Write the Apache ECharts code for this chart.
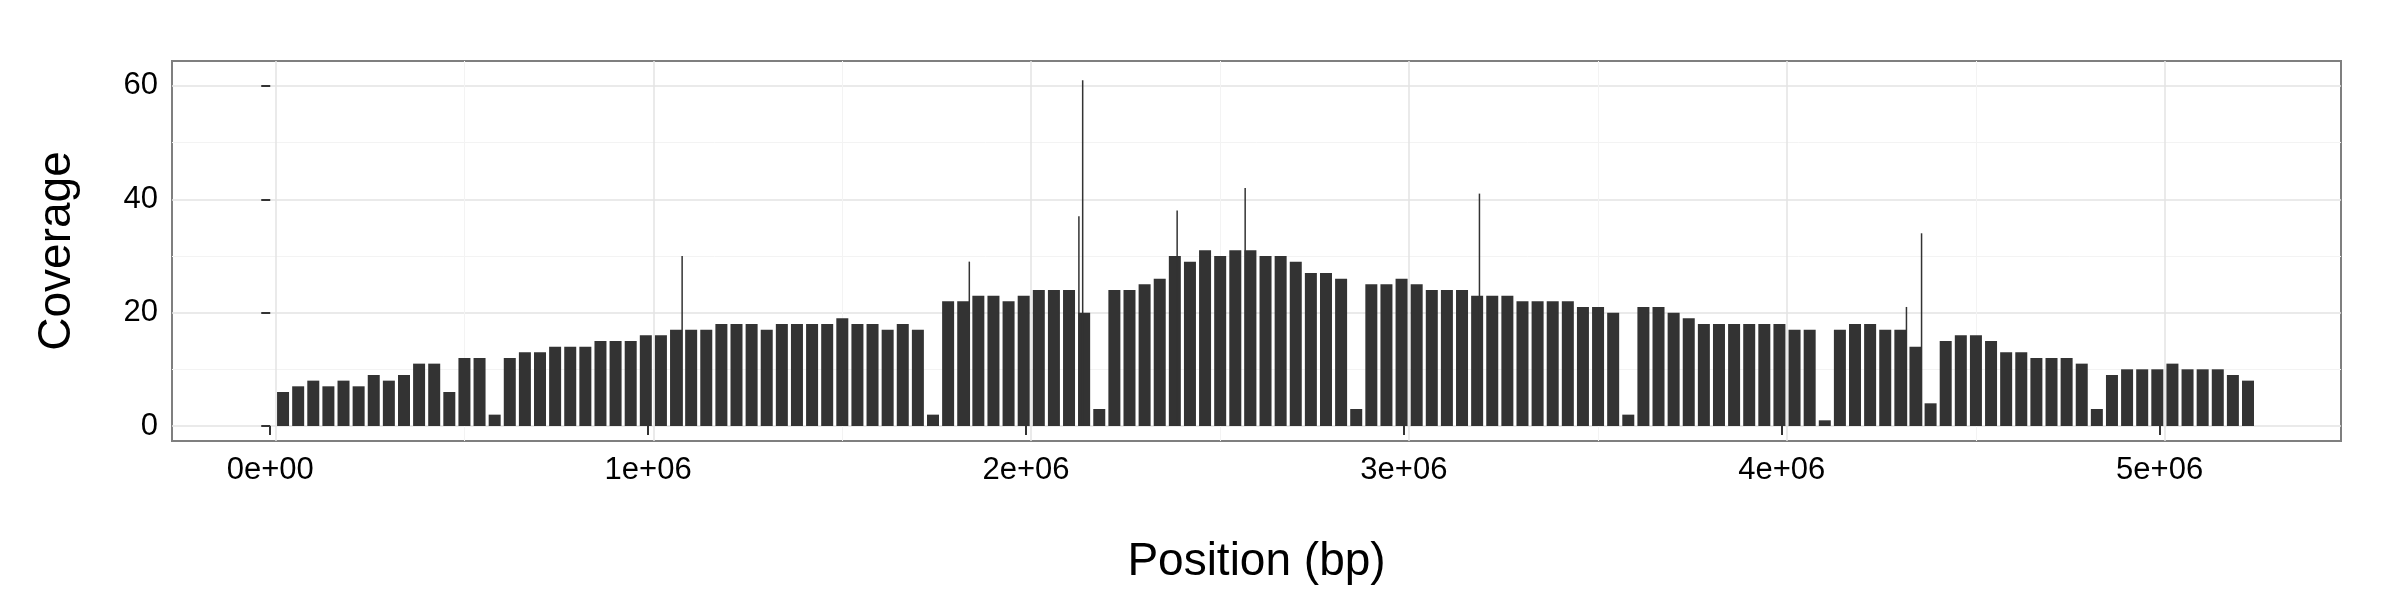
<!DOCTYPE html>
<html>
<head>
<meta charset="utf-8">
<script src="https://cdn.jsdelivr.net/npm/echarts@6/dist/echarts.min.js"></script>
<style>html,body{margin:0;background:#fff}#chart{width:2400px;height:600px}</style>
</head>
<body>
<div id="chart"></div>
<script>
// coverage in 40 kb bins, starting at position 0
const binSize = 40000
const coverage = [
  6,7,8,7,8,7,9,8,
  9,11,11,6,12,
  12,2,
  12,13,13,14,14,
  14,15,15,15,16,
  16,17,17,17,18,18,18,17,18,18,18,18,19,18,18,17,18,17,
  2,
  22,22,23,23,22,23,24,24,24,
  20,3,
  24,24,25,26,
  30,29,31,30,
  31,31,30,30,29,
  27,27,26,
  3,
  25,25,26,25,24,24,
  24,23,23,23,22,22,
  22,22,21,21,20,
  2,
  21,21,20,19,
  18,18,18,18,18,18,17,17,
  1,
  17,18,18,17,17,14,
  4,
  15,16,16,15,
  13,13,12,12,12,11,
  3,
  9,10,10,10,11,10,10,10,9,8
]
// narrow spikes
const spikePos = [1090000, 1850000, 2140000, 2150000, 2400000, 2580000, 3200000, 4330000, 4370000]
const spikeVal = [30, 29, 37, 61, 38, 42, 41, 21, 34]
const yTicks = [0, 20, 40, 60]
const xTicks = [0, 1e6, 2e6, 3e6, 4e6, 5e6]

const binData = coverage.map((v, i) => [i * binSize + binSize / 2, v])
const spikeData = spikePos.map((p, i) => [p, spikeVal[i]])

const gridY = [0, 10, 20, 30, 40, 50, 60].map(v => ({ yAxis: v, lineStyle: { type: 'solid', color: v % 20 === 0 ? '#e3e3e3' : '#f3f3f3', width: v % 20 === 0 ? 1.5 : 1 } }))
const gridX = [0, 0.5e6, 1e6, 1.5e6, 2e6, 2.5e6, 3e6, 3.5e6, 4e6, 4.5e6, 5e6].map(v => ({ xAxis: v, lineStyle: { type: 'solid', color: v % 1e6 === 0 ? '#e3e3e3' : '#f3f3f3', width: v % 1e6 === 0 ? 1.5 : 1 } }))

const chart = echarts.init(document.getElementById('chart'))
chart.setOption({
  animation: false,
  grid: { left: 172, right: 59, top: 61, bottom: 159, show: true, borderColor: '#7f7f7f', borderWidth: 2 },
  xAxis: {
    type: 'value', min: -260000, max: 5480000,
    name: 'Position (bp)', nameLocation: 'middle', nameGap: 98,
    nameTextStyle: { fontSize: 46, color: '#000', fontFamily: 'Liberation Sans' },
    axisLine: { show: false }, splitLine: { show: false },
    axisTick: { show: true, customValues: xTicks, length: 9, lineStyle: { color: '#333', width: 2 } },
    axisLabel: {
      customValues: xTicks, fontSize: 31, color: '#000', margin: 14, fontFamily: 'Liberation Sans',
      formatter: v => v === 0 ? '0e+00' : (v / 1e6) + 'e+06'
    }
  },
  yAxis: {
    type: 'value', min: -2.65, max: 64.4,
    name: 'Coverage', nameLocation: 'middle', nameGap: 92,
    nameTextStyle: { fontSize: 46, color: '#000', fontFamily: 'Liberation Sans' },
    axisLine: { show: false }, splitLine: { show: false },
    axisTick: { show: true, customValues: yTicks, length: 9, lineStyle: { color: '#333', width: 2 } },
    axisLabel: { customValues: yTicks, fontSize: 31, color: '#000', margin: 14, fontFamily: 'Liberation Sans' }
  },
  series: [
    {
      type: 'bar', data: binData, barWidth: 12, itemStyle: { color: '#333333' },
      markLine: { silent: true, symbol: 'none', label: { show: false }, z: 0, data: gridY.concat(gridX) },
      z: 2
    },
    {
      type: 'bar', data: spikeData, barWidth: 1.5, barGap: '-100%', itemStyle: { color: '#333333' }, z: 3
    }
  ]
})
</script>
</body>
</html>
